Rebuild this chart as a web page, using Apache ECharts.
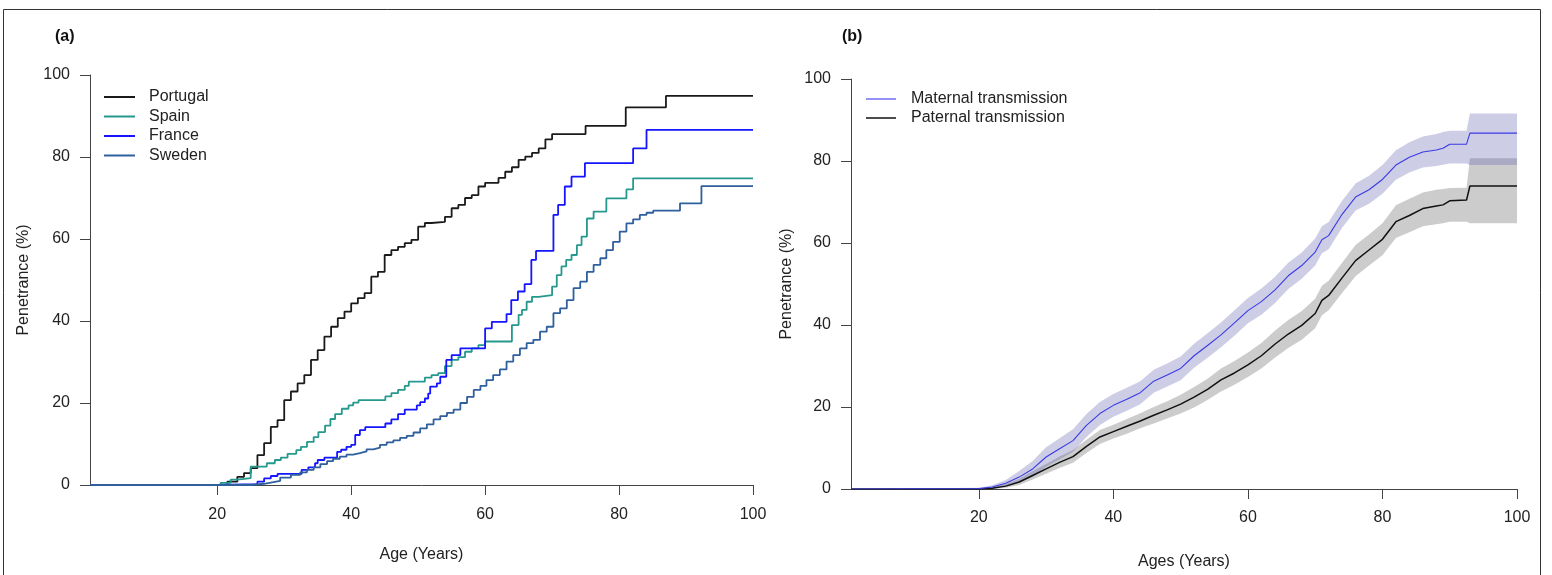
<!DOCTYPE html>
<html><head><meta charset="utf-8">
<script src="https://cdn.jsdelivr.net/npm/echarts@6/dist/echarts.min.js"></script>
<style>html,body{margin:0;padding:0;background:#fff}#c{width:1552px;height:575px}</style>
</head><body><div id="c"></div><script>
// ---------- Panel (a): Kaplan-Meier style penetrance by country ----------
const portugalAge = [1,21.5,23,24,25,26,27,28,29,30,31,32,33,34,35,36,37,38,39,40,41,42,43,44,45,46,47,48,49,50,51,52,54,55,56,57,58,59,60,62,63,64,65,66,67,68,69,70,75,81,87,100];
const portugalPen = [0,0.8,2.0,2.9,4.1,7.3,10.2,14.2,15.8,20.7,22.8,24.8,26.8,30.5,32.9,36.2,38.6,40.7,42.3,44.3,45.6,46.8,50.8,52.0,56.1,57.3,58.1,59.0,59.8,63.0,63.9,64.2,65.4,67.5,68.3,70.0,70.7,72.8,73.7,74.9,76.4,77.5,79.3,80.1,81.0,82.1,84.3,85.6,87.6,92.1,94.9,94.9];

const spainAge = [1,20.5,22,23,25,27.4,28.6,29.5,30.5,31.8,32.5,33.4,34.4,35.1,36.1,36.9,37.6,38.6,39.6,40.3,41.1,45.1,46,47,48,48.6,51,52,53,54,55,56,57,58,59,60,64,65,65.5,66.2,67,68,70,70.7,71.4,72.1,72.9,73.7,74.4,75.2,76.2,78.1,81.1,82.1,100];
const spainPen = [0,0.5,1.3,1.7,4.5,5.3,6.1,6.7,7.6,8.5,9.3,10.5,11.7,12.9,14.5,16.1,17.3,18.6,19.4,20.1,20.7,21.6,22.4,23.2,24.2,25.2,26.2,26.8,27.3,29.0,30.5,31.2,32.5,33.3,34.1,35.0,39.0,41.5,42.7,44.7,45.9,46.3,48.4,51.2,53.3,54.9,56.1,58.5,60.6,65.0,66.7,69.9,72.1,74.8,74.8];

const franceAge = [1,20,26,27,28,29,32.6,33.6,34.6,35,36,37.9,38.5,39.3,40,40.6,41.3,42.1,45.1,46,47,48,49.8,50.3,51,51.5,51.8,52.8,53.3,54.2,55,56.3,60,61,63.2,63.9,64.9,65.9,66.9,67.6,70.2,70.9,71.9,72.9,74.9,82.1,84.1,100];
const francePen = [0,0.2,0.8,1.6,2.2,2.7,3.7,4.3,5.3,6.1,6.7,8.1,8.6,9.3,9.8,12.2,13.4,14.1,15.0,16.0,17.3,18.4,19.4,20.2,21.1,22.3,24.0,24.8,26.4,30.5,31.7,33.3,38.2,39.8,41.7,45.1,47.2,49.0,54.9,57.1,65.9,68.3,72.8,75.2,78.5,82.1,86.6,86.6];

const swedenAge = [1,25,27,28,29.4,31,32.4,33.4,34.4,35.4,36.4,37.3,38.3,39.3,40.3,41.3,42.3,43.3,44.3,45.3,46.3,47.3,48.3,49.3,50.3,51.3,52.3,53.3,54.3,55.3,56.3,57.3,58.3,59.3,60.2,61.2,62.2,63.2,64.2,65.2,66.2,67.2,68.2,69.2,70.2,71.2,72.2,73.2,74.2,75.2,76.2,77.2,78.1,79.1,80.1,81.1,82.1,83.1,84.1,85.1,89.1,92.3,100];
const swedenPen = [0,0.3,0.6,1.0,1.8,2.5,3.1,3.7,4.3,5.1,5.8,6.4,6.9,7.4,7.8,8.2,8.7,9.1,9.8,10.4,10.9,11.5,12.0,12.8,13.8,14.8,16.0,16.8,17.6,18.4,20.0,21.5,23.2,24.2,25.6,26.8,28.2,30.1,31.7,33.3,34.6,35.4,37.4,38.6,41.9,43.1,45.1,48.0,49.6,52.0,53.7,55.3,57.3,59.3,61.8,63.8,64.8,65.9,66.4,66.9,68.7,72.9,72.9];

// ---------- Panel (b): maternal vs paternal transmission with CI ----------
const bAge = [1,20,22,24,26,28,30,32,34,36,38,40,42,44,46,48,50,52,54,56,58,60,62,64,66,68,70,71,72,74,76,78,80,82,84,86,88,89,90,92.5,93,100];
const maternal     = [0,0.1,0.5,1.4,2.9,4.9,7.8,9.8,11.8,15.5,18.4,20.4,21.9,23.5,26.3,27.8,29.4,32.5,35.0,37.6,40.5,43.5,45.7,48.5,52.0,54.5,57.8,60.8,61.8,67.0,71.2,73.0,75.5,79.0,80.9,82.2,82.7,83.1,84.1,84.1,86.8,86.8];
const maternalLow  = [0,0,0.2,0.7,1.5,3.0,5.4,7.2,9.1,12.7,15.6,17.6,19.1,20.7,23.5,25.0,26.5,29.6,32.0,34.6,37.4,40.4,42.5,45.3,48.8,51.3,54.5,57.5,58.5,63.7,67.9,69.6,72.0,75.4,77.2,78.4,78.8,79.1,79.4,79.4,79.0,79.0];
const maternalHigh = [0,0.3,0.9,2.2,4.4,6.8,10.2,12.4,14.6,18.3,21.2,23.2,24.7,26.3,29.1,30.6,32.3,35.4,38.0,40.6,43.6,46.6,48.9,51.7,55.2,57.7,61.1,64.1,65.1,70.3,74.5,76.4,79.0,82.6,84.6,86.0,86.6,87.1,87.4,87.4,91.6,91.6];
const paternal     = [0,0,0.2,0.7,1.7,3.3,4.9,6.5,7.9,10.4,12.7,14.0,15.3,16.6,18.0,19.3,20.7,22.4,24.3,26.6,28.3,30.3,32.5,35.3,37.8,39.9,42.8,46.0,47.2,51.5,55.7,58.3,60.9,65.2,66.7,68.4,69.0,69.3,70.3,70.5,73.9,73.9];
const paternalLow  = [0,0,0,0.3,1.0,2.3,3.7,5.1,6.4,8.8,11.0,12.3,13.5,14.8,16.0,17.2,18.4,19.9,21.7,23.8,25.4,27.3,29.4,32.0,34.4,36.4,39.2,42.4,43.6,47.8,51.9,54.5,57.0,61.2,62.6,64.1,64.6,64.8,65.2,65.2,64.8,64.8];
const paternalHigh = [0,0,0.5,1.2,2.5,4.4,6.1,7.9,9.5,12.0,14.4,15.7,17.1,18.5,20.0,21.4,23.0,24.9,26.9,29.4,31.2,33.3,35.6,38.6,41.2,43.4,46.4,49.6,50.8,55.2,59.5,62.1,64.8,69.2,70.8,72.3,73.0,73.2,73.4,73.5,80.7,80.7];

const xTicks = [20, 40, 60, 80, 100];
const countries = ['Portugal', 'Spain', 'France', 'Sweden'];
const transmissions = ['Maternal transmission', 'Paternal transmission'];

// ---------- styling ----------
const FONT = 'Liberation Sans, Arial, Helvetica, sans-serif';
const AX = '#444';
const TXT = '#222';
const pairs = (xs, ys) => xs.map((x, i) => [x, ys[i]]);

function xAx(gi, name, gap, margin) {
  return {
    type: 'value', gridIndex: gi, min: 1, max: 100,
    name: name, nameLocation: 'middle', nameGap: gap,
    nameTextStyle: { fontSize: 16, color: TXT, fontFamily: FONT },
    axisLine: { show: true, onZero: false, lineStyle: { color: AX, width: 1 } },
    axisTick: { show: true, length: 10, customValues: xTicks, lineStyle: { color: AX, width: 1 } },
    axisLabel: { show: true, customValues: xTicks, margin: margin, fontSize: 16, color: TXT, fontFamily: FONT },
    splitLine: { show: false }
  };
}
function yAx(gi, gap) {
  return {
    type: 'value', gridIndex: gi, min: 0, max: 100, interval: 20,
    name: 'Penetrance (%)', nameLocation: 'middle', nameGap: gap, nameRotate: 90,
    nameTextStyle: { fontSize: 16, color: TXT, fontFamily: FONT },
    axisLine: { show: true, onZero: false, lineStyle: { color: AX, width: 1 } },
    axisTick: { show: true, length: 10, lineStyle: { color: AX, width: 1 } },
    axisLabel: { show: true, margin: 20, fontSize: 16, color: TXT, fontFamily: FONT },
    splitLine: { show: false }
  };
}
function stepLine(name, xs, ys, color) {
  return {
    name: name, type: 'line', xAxisIndex: 0, yAxisIndex: 0, step: 'end',
    data: pairs(xs, ys), symbol: 'none', showSymbol: false,
    lineStyle: { color: color, width: 1.8 }, itemStyle: { color: color },
    emphasis: { disabled: true }, animation: false
  };
}
// confidence band drawn as one polygon through the axis scales (api.coord)
function bandSeries(key, lo, hi, color, z) {
  return {
    name: key, type: 'custom', xAxisIndex: 1, yAxisIndex: 1, z: z, silent: true, animation: false,
    data: bAge.map((x, i) => [x, lo[i], hi[i]]),
    encode: { x: 0, y: [1, 2] },
    renderItem: function (params, api) {
      if (params.dataIndex !== 0) return null;
      const upper = bAge.map((x, i) => api.coord([x, hi[i]]));
      const lower = bAge.map((x, i) => api.coord([x, lo[i]])).reverse();
      return { type: 'polygon', shape: { points: upper.concat(lower) },
               style: { fill: color, stroke: null } };
    }
  };
}

const chart = echarts.init(document.getElementById('c'), null, { renderer: 'canvas' });
chart.setOption({
  backgroundColor: '#fff',
  animation: false,
  title: [
    { text: '(a)', left: 55, top: 29, padding: 0, textStyle: { fontSize: 16, fontWeight: 'bold', color: '#111', fontFamily: FONT } },
    { text: '(b)', left: 842, top: 29, padding: 0, textStyle: { fontSize: 16, fontWeight: 'bold', color: '#111', fontFamily: FONT } }
  ],
  legend: [
    { data: countries, orient: 'vertical', left: 104, top: 89, icon: 'rect', itemWidth: 31, itemHeight: 2,
      itemGap: 3.5, padding: 0, selectedMode: false,
      textStyle: { fontSize: 16, color: TXT, fontFamily: FONT, padding: [0, 0, 0, 9], lineHeight: 16 } },
    { data: transmissions, orient: 'vertical', left: 866, top: 91, icon: 'rect', itemWidth: 30, itemHeight: 1.5,
      itemGap: 3, padding: 0, selectedMode: false,
      textStyle: { fontSize: 16, color: TXT, fontFamily: FONT, padding: [0, 0, 0, 10], lineHeight: 16 } }
  ],
  grid: [
    { left: 90, right: 799, top: 75, bottom: 90, containLabel: false, outerBoundsMode: 'none' },
    { left: 851, right: 35, top: 79, bottom: 86, containLabel: false, outerBoundsMode: 'none' }
  ],
  xAxis: [xAx(0, 'Age (Years)', 62, 22), xAx(1, 'Ages (Years)', 65, 21)],
  yAxis: [yAx(0, 58), yAx(1, 56)],
  series: [
    stepLine('Portugal', portugalAge, portugalPen, '#1a1a1a'),
    stepLine('Spain', spainAge, spainPen, '#25998e'),
    stepLine('France', franceAge, francePen, '#1515ff'),
    stepLine('Sweden', swedenAge, swedenPen, '#2f5f9c'),
    bandSeries('Paternal CI', paternalLow, paternalHigh, 'rgba(0,0,0,0.2)', 1),
    bandSeries('Maternal CI', maternalLow, maternalHigh, 'rgba(92,92,175,0.31)', 2),
    { name: 'Paternal transmission', type: 'line', xAxisIndex: 1, yAxisIndex: 1, data: pairs(bAge, paternal),
      symbol: 'none', lineStyle: { color: '#111', width: 1.5 }, itemStyle: { color: '#111' }, z: 3, animation: false },
    { name: 'Maternal transmission', type: 'line', xAxisIndex: 1, yAxisIndex: 1, data: pairs(bAge, maternal),
      symbol: 'none', lineStyle: { color: '#3a3ae6', width: 1.1 }, itemStyle: { color: '#6f6ff2' }, z: 4, animation: false }
  ],
  graphic: [
    { type: 'rect', silent: true, shape: { x: 3.5, y: 9.5, width: 1537, height: 600 },
      style: { fill: 'none', stroke: '#333', lineWidth: 1 } }
  ]
});
</script></body></html>
